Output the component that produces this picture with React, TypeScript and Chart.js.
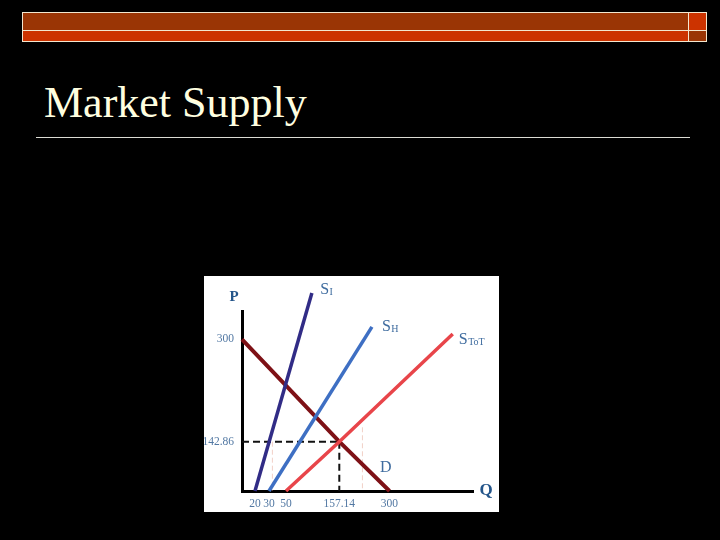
import React, { useEffect, useRef } from 'react';
import { Chart, registerables, LinearScale } from 'chart.js';

// ---------------- data ----------------
const slideTitle = 'Market Supply';
const axisNameP = 'P';
const axisNameQ = 'Q';

// tick labels on the axes
const qTicks = [20, 30, 50, 157.14, 300];
const pTicks = [142.86, 300];

// the original drawing is a sketch, not to scale: share of axis length taken by each labelled value
const qKnots = [0, 20, 30, 50, 157.14, 300];
const qShares = [0, 0.0563, 0.1169, 0.1905, 0.4212, 0.6385];
const pKnots = [0, 142.86, 300];
const pShares = [0, 0.2739, 0.8428];

// curves (Q, P)
const supplyI = [
  { x: 20, y: 0 },
  { x: 102, y: 371 },
];
const supplyH = [
  { x: 30, y: 0 },
  { x: 250, y: 319 },
];
const supplyTotal = [
  { x: 50, y: 0 },
  { x: 157.14, y: 142.86 },
  { x: 480, y: 308 },
];
const demand = [
  { x: 0, y: 300 },
  { x: 157.14, y: 142.86 },
  { x: 300, y: 0 },
];
const equilibriumQ = 157.14;
const equilibriumP = 142.86;
// faint helper marks left in the original picture
const faintQ = [34, 223];
const faintTopP = [142.86, 165];

const curveNames = [
  { main: 'S', sub: 'I' },
  { main: 'S', sub: 'H' },
  { main: 'S', sub: 'ToT' },
  { main: 'D', sub: '' },
];

// ---------------- schematic scale ----------------
const knotTable: Record<string, { v: number[]; s: number[] }> = {
  x: { v: qKnots, s: qShares },
  y: { v: pKnots, s: pShares },
};

class SchematicScale extends LinearScale {
  static id = 'schematic';
  static defaults = LinearScale.defaults;
  shareOf(value: number) {
    const k = knotTable[(this as any).id];
    const v = k.v;
    const s = k.s;
    const n = v.length;
    let i = 1;
    while (i < n - 1 && value > v[i]) i++;
    return s[i - 1] + ((value - v[i - 1]) * (s[i] - s[i - 1])) / (v[i] - v[i - 1]);
  }
  getPixelForValue(value: any) {
    if (value === null || value === undefined || Number.isNaN(+value)) return NaN;
    return (this as any).getPixelForDecimal(this.shareOf(+value));
  }
  getValueForPixel(pixel: number) {
    const d = (this as any).getDecimalForPixel(pixel);
    const k = knotTable[(this as any).id];
    const v = k.v;
    const s = k.s;
    const n = s.length;
    let i = 1;
    while (i < n - 1 && d > s[i]) i++;
    return v[i - 1] + ((d - s[i - 1]) * (v[i] - v[i - 1])) / (s[i] - s[i - 1]);
  }
}

Chart.register(...registerables, SchematicScale as any);

const FONT = "'Liberation Serif', 'Times New Roman', serif";

const labelOffsets = [
  { dx: 8.3, dy: 0.7 },
  { dx: 10, dy: 4 },
  { dx: 6, dy: 10.4 },
  { dx: -9.5, dy: -18.7 },
];

const labelPlugin = {
  id: 'curveLabels',
  afterDatasetsDraw(chart: any) {
    const ctx = chart.ctx;
    const area = chart.chartArea;
    ctx.save();
    ctx.textBaseline = 'alphabetic';
    ctx.textAlign = 'center';
    ctx.fillStyle = '#24558a';
    ctx.font = `bold 15px ${FONT}`;
    ctx.fillText(axisNameP, area.left - 8, area.top - 10);
    ctx.font = `bold 17px ${FONT}`;
    ctx.fillText(axisNameQ, area.right + 13, area.bottom + 3.5);

    curveNames.forEach((name, i) => {
      const meta = chart.getDatasetMeta(i);
      const pt = meta.data[meta.data.length - 1];
      const x = pt.x + labelOffsets[i].dx;
      const y = pt.y + labelOffsets[i].dy;
      ctx.textAlign = 'left';
      ctx.fillStyle = '#3f6c9f';
      ctx.font = `16px ${FONT}`;
      ctx.fillText(name.main, x, y);
      if (name.sub) {
        const w = ctx.measureText(name.main).width;
        ctx.font = `10px ${FONT}`;
        ctx.fillText(name.sub, x + w + 0.5, y + 1);
      }
    });
    ctx.restore();
  },
};

function MarketChart() {
  const ref = useRef<HTMLCanvasElement | null>(null);
  useEffect(() => {
    if (!ref.current) return;
    const lineBase = {
      pointRadius: 0,
      pointHoverRadius: 0,
      tension: 0,
      clip: false as any,
      fill: false,
      borderCapStyle: 'butt' as const,
    };
    const chart = new Chart(ref.current, {
      type: 'line',
      data: {
        datasets: [
          { ...lineBase, label: 'SI', data: supplyI, borderColor: '#312c86', borderWidth: 3.5 },
          { ...lineBase, label: 'SH', data: supplyH, borderColor: '#3e6fc3', borderWidth: 3.5 },
          { ...lineBase, label: 'STOT', data: supplyTotal, borderColor: '#e8454a', borderWidth: 3.5 },
          { ...lineBase, label: 'D', data: demand, borderColor: '#7e1116', borderWidth: 4 },
          {
            ...lineBase,
            label: 'P*',
            data: [
              { x: 0, y: equilibriumP },
              { x: equilibriumQ, y: equilibriumP },
            ],
            borderColor: '#111',
            borderWidth: 2,
            borderDash: [7, 4],
          },
          {
            ...lineBase,
            label: 'Q*',
            data: [
              { x: equilibriumQ, y: equilibriumP },
              { x: equilibriumQ, y: 0 },
            ],
            borderColor: '#111',
            borderWidth: 2,
            borderDash: [7, 4],
          },
          ...faintQ.map((q, i) => ({
            ...lineBase,
            label: 'faint' + i,
            data: [
              { x: q, y: faintTopP[i] },
              { x: q, y: 0 },
            ],
            borderColor: 'rgba(225,150,130,0.45)',
            borderWidth: 1,
            borderDash: [5, 3],
          })),
        ],
      },
      options: {
        animation: false,
        responsive: false,
        devicePixelRatio: 1,
        events: [],
        layout: { padding: { top: 35, right: 26, left: 0, bottom: 0 } },
        plugins: { legend: { display: false }, tooltip: { enabled: false } },
        scales: {
          x: {
            type: 'schematic' as any,
            position: 'bottom',
            min: 0,
            max: 300,
            grid: { display: false, drawTicks: false },
            border: { display: true, color: '#000', width: 3 },
            afterBuildTicks: (s: any) => {
              s.ticks = qTicks.map((v) => ({ value: v }));
            },
            afterFit: (s: any) => {
              s.height = 21;
            },
            ticks: {
              autoSkip: false,
              maxRotation: 0,
              minRotation: 0,
              padding: 6,
              color: '#5278a3',
              font: { family: FONT, size: 11.5 },
              callback: (v: any) => String(v),
            },
          } as any,
          y: {
            type: 'schematic' as any,
            position: 'left',
            min: 0,
            max: 300,
            grid: { display: false, drawTicks: false },
            border: { display: true, color: '#000', width: 3 },
            afterBuildTicks: (s: any) => {
              s.ticks = pTicks.map((v) => ({ value: v }));
            },
            afterFit: (s: any) => {
              s.width = 38;
            },
            ticks: {
              autoSkip: false,
              padding: 8,
              color: '#5278a3',
              font: { family: FONT, size: 11.5 },
              callback: (v: any) => String(v),
            },
          } as any,
        },
      },
      plugins: [labelPlugin],
    });
    return () => chart.destroy();
  }, []);
  return <canvas ref={ref} width={295} height={236} style={{ width: 295, height: 236, display: 'block' }} />;
}

export default function App() {
  const cream = '#f3e7cf';
  const dark = '#9a3505';
  const bright = '#cc3300';
  const box = (left: number, top: number, width: number, height: number, bg: string) => (
    <div
      style={{
        position: 'absolute',
        left,
        top,
        width,
        height,
        background: bg,
        border: `1px solid ${cream}`,
        boxSizing: 'border-box',
      }}
    />
  );
  return (
    <div
      style={{
        position: 'absolute',
        left: 0,
        top: 0,
        width: 720,
        height: 540,
        background: '#000',
        overflow: 'hidden',
      }}
    >
      {box(22, 12, 667, 19, dark)}
      {box(22, 30, 667, 12, bright)}
      {box(688, 12, 19, 19, bright)}
      {box(688, 30, 19, 12, dark)}
      <div
        style={{
          position: 'absolute',
          left: 44,
          top: 81,
          fontFamily: FONT,
          fontSize: 44,
          lineHeight: '44px',
          color: '#ffffe0',
          whiteSpace: 'nowrap',
        }}
      >
        {slideTitle}
      </div>
      <div style={{ position: 'absolute', left: 36, top: 137, width: 654, height: 1, background: '#dcdcd4' }} />
      <div style={{ position: 'absolute', left: 204, top: 276, width: 295, height: 236, background: '#fff' }}>
        <MarketChart />
      </div>
    </div>
  );
}
